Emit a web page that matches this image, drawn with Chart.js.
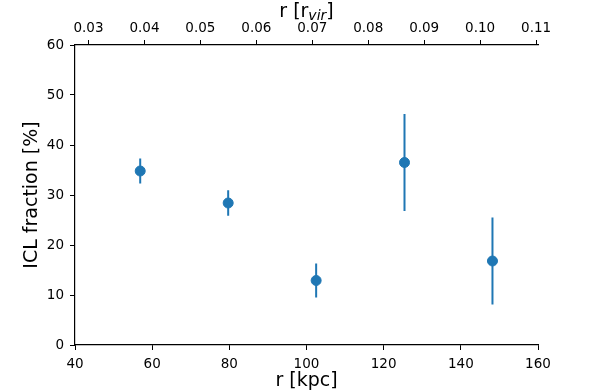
<!DOCTYPE html>
<html>
<head>
<meta charset="utf-8">
<script src="https://cdn.jsdelivr.net/npm/chart.js@4"></script>
<style>
  html, body { margin: 0; padding: 0; background: #fff; }
  canvas { display: block; }
</style>
</head>
<body>
<canvas id="chart" width="598" height="392"></canvas>
<script>

// radius in kpc, ICL fraction in %, symmetric error in %
const radiusKpc  = [56.9, 79.7, 102.5, 125.4, 148.2];
const iclFrac    = [34.8, 28.4, 12.9, 36.5, 16.8];
const iclErr     = [2.5, 2.55, 3.4, 9.7, 8.7];

// r_vir in kpc used for the top axis
const rVir = 1450;

const blue = '#1f77b4';
const font = "'DejaVu Sans', sans-serif";


// error bar segments separated by gaps
const errData = [];
for (let i = 0; i < radiusKpc.length; i++) {
      errData.push({ x: radiusKpc[i], y: iclFrac[i] - iclErr[i] });
      errData.push({ x: radiusKpc[i], y: iclFrac[i] + iclErr[i] });
      errData.push({ x: radiusKpc[i], y: null });
}


const topTitle = {
      id: 'topTitle',
      afterDraw(chart) {
            const ctx = chart.ctx;
            const a = chart.chartArea;
            const big = "19px " + font;
            const small = "italic 14px " + font;
            ctx.save();
            ctx.fillStyle = '#000';
            ctx.textBaseline = 'alphabetic';
            ctx.font = big;   const w1 = ctx.measureText('r [r').width;
            ctx.font = small; const w2 = ctx.measureText('vir').width;
            ctx.font = big;   const w3 = ctx.measureText(']').width;
            let x = (a.left + a.right) / 2 - (w1 + w2 + w3) / 2;
            const y = 17;
            ctx.font = big;   ctx.fillText('r [r', x, y); x += w1;
            ctx.font = small; ctx.fillText('vir', x, y + 3); x += w2;
            ctx.font = big;   ctx.fillText(']', x, y);
            ctx.restore();
      }
};


const axisCommon = {
      grid: { display: true, drawOnChartArea: false, tickLength: 5, color: '#000', tickWidth: 1 },
      border: { display: true, color: '#000', width: 1.2 },
};


const setup = {
      type: 'scatter',
      data: {
            datasets: [
                  {
                        label: 'points',
                        data: radiusKpc.map((x, i) => ({ x: x, y: iclFrac[i] })),
                        backgroundColor: blue,
                        borderColor: blue,
                        pointRadius: 5,
                        pointHoverRadius: 5,
                        order: 0,
                  },
                  {
                        label: 'errors',
                        data: errData,
                        showLine: true,
                        spanGaps: false,
                        borderColor: blue,
                        borderWidth: 2,
                        pointRadius: 0,
                        pointHoverRadius: 0,
                        order: 1,
                  },
            ]
      },
      options: {
            responsive: false,
            animation: false,
            layout: { padding: { left: 0, right: 60, top: 0, bottom: 0 } },
            plugins: {
                  legend: { display: false },
                  tooltip: { enabled: false },
            },
            scales: {
                  x: {
                        ...axisCommon,
                        type: 'linear',
                        position: 'bottom',
                        min: 40, max: 160,
                        ticks: { stepSize: 20, color: '#000', font: { family: font, size: 13.5 }, padding: 6 },
                        title: { display: true, text: 'r [kpc]', color: '#000', font: { family: font, size: 19 }, padding: { top: 0, bottom: 0 } },
                        afterFit(s) { s.height = 47; },
                  },
                  x2: {
                        ...axisCommon,
                        type: 'linear',
                        position: 'top',
                        min: 40 / rVir, max: 160 / rVir,
                        ticks: {
                              stepSize: 0.01, includeBounds: false, color: '#000',
                              font: { family: font, size: 13.5 }, padding: 3,
                              callback: (v) => v.toFixed(2),
                        },
                        afterFit(s) { s.height = 45; },
                  },
                  y: {
                        ...axisCommon,
                        type: 'linear',
                        position: 'left',
                        min: 0, max: 60,
                        ticks: { stepSize: 10, color: '#000', font: { family: font, size: 13.5 }, padding: 6 },
                        title: { display: true, text: 'ICL fraction [%]', color: '#000', font: { family: font, size: 19 }, padding: { top: 21, bottom: 0 } },
                        afterFit(s) { s.width = 75; },
                  },
            },
      },
      plugins: [topTitle],
};

new Chart(document.getElementById('chart'), setup);

</script>
</body>
</html>
